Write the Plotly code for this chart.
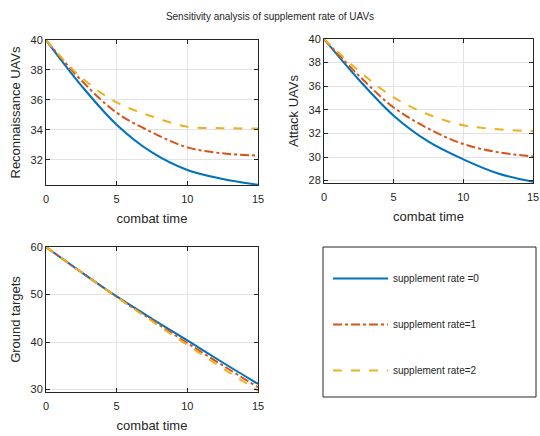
import plotly.graph_objects as go
from plotly.subplots import make_subplots

t = [0, 2.5, 5, 7.5, 10, 12.5, 15]

# Reconnaissance UAVs
recon_r0 = [40.0, 36.96, 34.35, 32.5, 31.33, 30.73, 30.35]
recon_r1 = [40.0, 37.3, 35.15, 33.84, 32.84, 32.44, 32.29]
recon_r2 = [40.0, 37.5, 35.84, 34.9, 34.22, 34.12, 34.1]

# Attack UAVs
attack_r0 = [40.0, 36.55, 33.5, 31.3, 29.8, 28.6, 27.9]
attack_r1 = [40.0, 36.9, 34.2, 32.4, 31.1, 30.4, 30.05]
attack_r2 = [40.0, 37.3, 35.05, 33.6, 32.7, 32.35, 32.2]

# Ground targets
ground_r0 = [60.0, 54.7, 49.6, 44.9, 40.35, 35.7, 31.2]
ground_r1 = [60.0, 54.7, 49.5, 44.6, 39.8, 35.1, 30.5]
ground_r2 = [60.0, 54.7, 49.5, 44.4, 39.4, 34.5, 29.8]

names = ["supplement rate =0", "supplement rate=1", "supplement rate=2"]
colors = ["#0072BD", "#D95319", "#EDB120"]
dashes = ["solid", "dashdot", "dash"]

W, H = 540, 436
fig = make_subplots(rows=2, cols=2)

panels = [
    (1, 1, [recon_r0, recon_r1, recon_r2], "Reconnaissance UAVs", [30.33, 40], [32, 34, 36, 38, 40]),
    (1, 2, [attack_r0, attack_r1, attack_r2], "Attack UAVs", [27.8, 40], [28, 30, 32, 34, 36, 38, 40]),
    (2, 1, [ground_r0, ground_r1, ground_r2], "Ground targets", [29.5, 60], [30, 40, 50, 60]),
]

for pi, (r, c, series, ylab, yr, yt) in enumerate(panels):
    for i, ys in enumerate(series):
        fig.add_trace(go.Scatter(
            x=t, y=ys, mode="lines", name=names[i],
            line=dict(color=colors[i], width=2, dash=dashes[i], shape="spline", smoothing=1.0),
            showlegend=(pi == 0), legendgroup=f"g{i}",
        ), row=r, col=c)
    fig.update_yaxes(range=yr, tickvals=yt, title_text=ylab, row=r, col=c)
    fig.update_xaxes(range=[0, 15], tickvals=[0, 5, 10, 15], title_text="combat time", row=r, col=c)

axis_style = dict(
    showline=True, linecolor="#262626", linewidth=1, mirror="ticks",
    ticks="inside", ticklen=4, tickcolor="#262626",
    showgrid=True, gridcolor="#E3E3E3", gridwidth=1, zeroline=False,
    automargin=False,
    tickfont=dict(family="Liberation Sans, Arial, sans-serif", size=11, color="#262626"),
    title_font=dict(family="Liberation Sans, Arial, sans-serif", size=13, color="#262626"),
)
fig.update_xaxes(**axis_style, title_standoff=9, ticklabelstandoff=4)
fig.update_yaxes(**axis_style, title_standoff=6)

def px(x0, x1):
    return [x0 / W, x1 / W]
def py(top, bottom):
    return [1 - bottom / H, 1 - top / H]

fig.update_layout(
    xaxis=dict(domain=px(46, 258)), yaxis=dict(domain=py(40, 185)),
    xaxis2=dict(domain=px(324, 533)), yaxis2=dict(domain=py(39, 183)),
    xaxis3=dict(domain=px(46, 258)), yaxis3=dict(domain=py(247, 392)),
)
fig.layout.xaxis4.visible = False
fig.layout.yaxis4.visible = False

fig.update_layout(
    width=W, height=H,
    margin=dict(l=0, r=0, t=0, b=0, autoexpand=False),
    paper_bgcolor="white", plot_bgcolor="white",
    font=dict(family="Liberation Sans, Arial, sans-serif", color="#262626"),
    title=dict(text="Sensitivity analysis of supplement rate of UAVs",
               x=0.5, xanchor="center", y=1 - 16 / H, yanchor="middle",
               font=dict(size=10, color="#262626")),
    legend=dict(
        x=328 / W, y=1 - 264 / H, xanchor="left", yanchor="top",
        bgcolor="rgba(0,0,0,0)", borderwidth=0,
        font=dict(size=10, color="#262626"),
        tracegroupgap=27, itemwidth=55,
    ),
    shapes=[dict(type="rect", xref="paper", yref="paper",
                 x0=323 / W, x1=536 / W, y0=1 - 397 / H, y1=1 - 247 / H,
                 line=dict(color="#262626", width=1), fillcolor="rgba(0,0,0,0)")],
)

fig.write_html("out.html", config={"displayModeBar": False},
               post_script="document.body.style.margin='0';document.body.style.overflow='hidden';")
